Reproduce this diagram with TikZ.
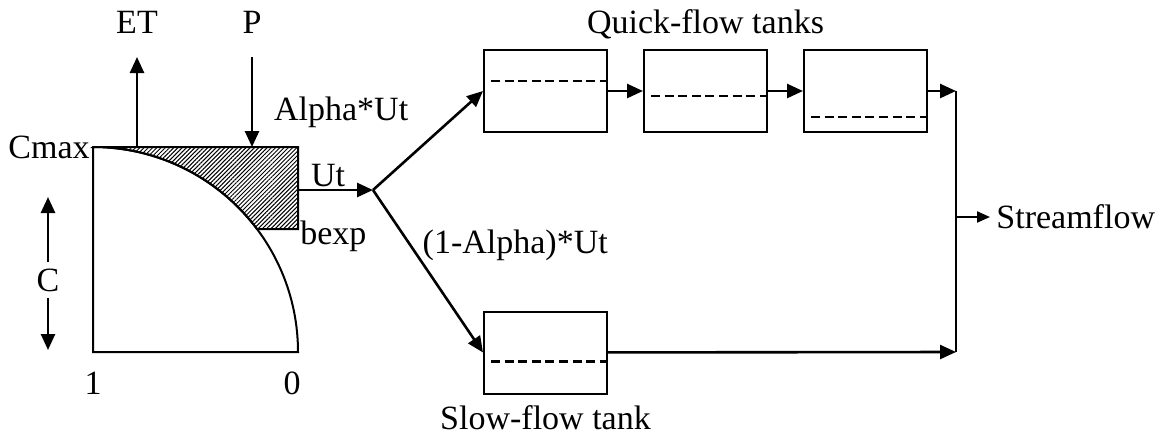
\documentclass[tikz,border=0pt]{standalone}
\usepackage{fontspec}
\setmainfont{Liberation Serif}
\usetikzlibrary{arrows.meta,positioning,patterns.meta}

\begin{document}
\begin{tikzpicture}[
  x=0.5pt, y=0.5pt,
  font=\fontsize{17pt}{20pt}\selectfont, inner sep=3pt,
  tank/.style={draw, line width=1pt, minimum width=61.5pt, minimum height=41pt, inner sep=0pt},
  arr/.style={-{Triangle[length=8pt,width=7pt]}, line width=1.3pt},
  thinarr/.style={-{Triangle[length=6.5pt,width=5.5pt]}, line width=1pt},
  lvl/.style={line width=1.1pt, dash pattern=on 4.5pt off 2.3pt},
  lab/.style={inner sep=1pt}
]
\useasboundingbox (0,0) rectangle (1157,436);
% soil moisture store
\coordinate (bl) at (93,84);
\coordinate (br) at (298,84);
\coordinate (tl) at (93,289);
\coordinate (tr) at (298,289);
\coordinate (hb) at (298,207);
\coordinate (ha) at (257,207);
\draw[line width=1pt, pattern={Lines[angle=45,distance=1.5pt,line width=0.5pt]}] (tl) -- (tr) -- (hb) -- (ha) arc[start angle=36.87, end angle=90, radius=102.5pt] -- cycle;
\draw[line width=1pt] (tl) -- (bl) -- (br) arc[start angle=0, end angle=90, radius=102.5pt];
\node[lab, left=0.5pt of tl] (cmax) {Cmax};
\node[below=6.75pt of bl] (one) {1};
\node[below=6.75pt of br, xshift=-3pt] (zero) {0};
\node (c) at (48,156) {C};
\coordinate (cup) at (48,239);
\coordinate (cdn) at (48,86);
\draw[arr] (c) -- (cup);
\draw[arr] (c) -- (cdn);
% ET and P
\coordinate (et0) at (137,289);
\coordinate (et1) at (137,379);
\node[above=8.5pt of et1] (et) {ET};
\draw[arr] (et0) -- (et1);
\coordinate (p0) at (252,379);
\coordinate (p1) at (252,289);
\node[above=8.5pt of p0] (p) {P};
\draw[arr] (p0) -- (p1);
% runoff
\coordinate (ut0) at (298,246);
\coordinate (split) at (373,246);
\draw[arr] (ut0) -- node[lab, above, pos=0.4] {Ut} (split);
\node[lab, anchor=west, yshift=-3.5pt] (bexp) at (hb) {bexp};
% routing tanks
\node[tank] (q1) at (545.5,345) {};
\node[tank, right=17.5pt of q1] (q2) {};
\node[tank, right=17.5pt of q2] (q3) {};
\node[tank] (slow) at (545.5,83.5) {};
\node[above=2pt of q2] (qlab) {Quick-flow tanks};
\node[below=2.5pt of slow] (slab) {Slow-flow tank};
\foreach \t/\d in {q1/16pt, q2/23.5pt, q3/34pt, slow/25.5pt}
  \draw[lvl] ([shift={(4pt,-\d)}]\t.north west) -- ([yshift=-\d]\t.north east);
\draw[arr] (split) -- node[lab, pos=0.35, anchor=south east, yshift=12pt] {Alpha*Ut} (q1.west);
\draw[arr] (split) -- node[lab, pos=0.34, anchor=west, xshift=4.5pt] {(1-Alpha)*Ut} (slow.west);
\draw[arr] (q1) -- (q2);
\draw[arr] (q2) -- (q3);
% outlet
\coordinate (jt) at (956,345);
\coordinate (jb) at (956,84);
\coordinate (js) at (956,219);
\draw[arr] (q3) -- (jt);
\draw[arr] (slow) -- (jb);
\draw[line width=1.3pt] (jt) -- (jb);
\node[right=17pt of js] (flow) {Streamflow};
\draw[thinarr] (js) -- (flow);
\end{tikzpicture}
\end{document}
